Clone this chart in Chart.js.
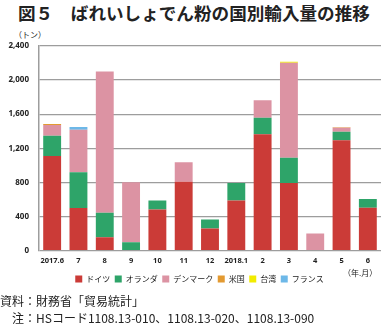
<!DOCTYPE html>
<html>
<head>
<meta charset="utf-8">
<script src="https://cdn.jsdelivr.net/npm/chart.js@4"></script>
<style>
    html, body {margin: 0; padding: 0; background: #fff;}
    body {width: 382px; height: 324px; position: relative; overflow: hidden; font-family: "Noto Sans CJK JP", sans-serif; color: #222;}
    .txt {position: absolute; white-space: nowrap; line-height: 1;}
    #chart-box {position: absolute; left: 0; top: 0; width: 382px; height: 293px;}
</style>
</head>
<body>
<div class="txt" style="left:18px; top:4px; font-size:17.6px; font-weight:bold;">図５　ばれいしょでん粉の国別輸入量の推移</div>
<div class="txt" style="left:14px; top:31px; font-size:8px;">（トン）</div>
<div id="chart-box"><canvas id="import-chart" width="382" height="293"></canvas></div>
<div class="txt" style="left:343px; top:269px; font-size:8px;">（年.月）</div>
<div class="txt" style="left:0px; top:295px; font-size:12px;">資料：財務省「貿易統計」</div>
<div class="txt" style="left:12px; top:312px; font-size:12px;">注：HSコード1108.13-010、1108.13-020、1108.13-090</div>

<script>
    var months = ['2017.6', '7', '8', '9', '10', '11', '12', '2018.1', '2', '3', '4', '5', '6'];

    // 国別輸入量（トン）
    var germany     = [1110, 500, 156, 0, 482, 807, 259, 588, 1364, 791, 0, 1294, 501];
    var netherlands = [238, 417, 286, 98, 106, 0, 106, 203, 195, 298, 0, 101, 102];
    var denmark     = [126, 500, 1658, 702, 0, 228, 0, 0, 205, 1114, 200, 47, 0];
    var usa         = [10, 0, 0, 0, 0, 0, 0, 0, 0, 0, 0, 5, 0];
    var taiwan      = [0, 0, 0, 0, 0, 0, 0, 0, 0, 12, 0, 0, 0];
    var france      = [0, 32, 0, 0, 0, 0, 0, 0, 0, 0, 0, 0, 0];

    var yTicks = [0, 400, 800, 1200, 1600, 2000, 2400];

    function bar(label, data, color) {
        return {
            label: label,
            data: data,
            backgroundColor: color,
            borderWidth: 0,
            categoryPercentage: 1,
            barPercentage: 0.68,
        };
    }

    // legend sits a bit right of canvas centre in the original
    var legendShift = {
        id: 'legendShift',
        afterLayout: function (chart) {
            if (chart.legend) {
                chart.legend.left += 9;
                chart.legend.right += 9;
            }
        }
    };

    var config = {
        type: 'bar',
        data: {
            labels: months,
            datasets: [
                bar('ドイツ', germany, '#cb3b37'),
                bar('オランダ', netherlands, '#2ea469'),
                bar('デンマーク', denmark, '#dc93a3'),
                bar('米国', usa, '#e39a31'),
                bar('台湾', taiwan, '#f2ec00'),
                bar('フランス', france, '#6db8e8'),
            ]
        },
        plugins: [legendShift],
        options: {
            responsive: false,
            animation: false,
            layout: {
                padding: {top: 46, right: 1, left: 0, bottom: 0}
            },
            plugins: {
                legend: {
                    position: 'bottom',
                    labels: {
                        boxWidth: 7,
                        boxHeight: 7,
                        padding: 4.5,
                        color: '#222',
                        font: {family: '"Noto Sans CJK JP"', size: 8}
                    }
                },
                tooltip: {enabled: false}
            },
            scales: {
                x: {
                    stacked: true,
                    grid: {display: false, drawTicks: false},
                    border: {display: false},
                    ticks: {
                        color: '#222',
                        padding: 6,
                        maxRotation: 0,
                        autoSkip: false,
                        font: {family: '"Noto Sans"', size: 7.5, weight: 'bold'}
                    },
                    afterFit: function (scale) {
                        scale.height = 20;
                    }
                },
                y: {
                    stacked: true,
                    min: 0,
                    max: 2400,
                    afterBuildTicks: function (scale) {
                        scale.ticks = yTicks.map(function (v) { return {value: v}; });
                    },
                    grid: {color: '#9d9d9d', lineWidth: 1.2, drawTicks: false},
                    border: {display: true, color: '#9d9d9d', width: 1.5},
                    ticks: {
                        color: '#222',
                        padding: 10,
                        font: {family: '"Noto Sans"', size: 8, weight: 'bold'},
                        callback: function (v) { return v.toLocaleString('en-US'); }
                    },
                    afterFit: function (scale) {
                        scale.width = 39;
                    }
                }
            }
        }
    };

    var ctx = document.getElementById('import-chart').getContext('2d');
    window.importChart = new Chart(ctx, config);
</script>
</body>
</html>
